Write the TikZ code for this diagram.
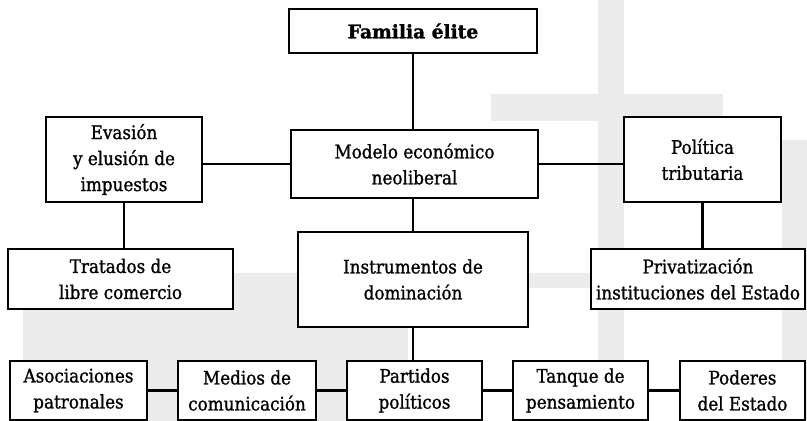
\documentclass[tikz,border=0pt]{standalone}
\usepackage{fontspec}
\setmainfont{DejaVu Serif Condensed}
\newfontfamily\heavyfont{DejaVu Serif Condensed}[FakeBold=1.1]
\newfontfamily\blackfont{DejaVu Serif Bold}[FakeBold=1.5]
\usepackage{tikz}
\usetikzlibrary{positioning,calc,backgrounds}
\definecolor{wmgray}{HTML}{ECECEC}

\begin{document}
\begin{tikzpicture}[
    x=0.75pt, y=-0.75pt,
    line width=1.8pt,
    %
    box/.style={draw=black, rectangle, fill=white, align=center, inner sep=0pt,
                font=\fontsize{14}{19.5}\heavyfont},
    topbox/.style={box, font=\fontsize{14}{19.5}\blackfont},
    rowbox/.style={box, minimum height=44.25pt},
    link/.style={draw=black, line width=1.8pt}
    ]
    \useasboundingbox (0,0) rectangle (807,421);
    % watermark
    \fill[wmgray] (598,0) rectangle (624,421);
    \fill[wmgray] (491,94) rectangle (723,121);
    \fill[wmgray] (23,273) rectangle (807,288);
    \fill[wmgray] (23,273) rectangle (408,421);
    \fill[wmgray] (782,140) rectangle (807,421);
    %
    \node[topbox, minimum width=186pt, minimum height=33pt] (familia) at (413,31) {Familia élite};
    \node[box, minimum width=185.25pt, minimum height=51pt] (modelo) at (414.5,164) {Modelo económico\\neoliberal};
    \node[box, minimum width=117pt, minimum height=63.75pt] (evasion) at (124,159.5) {Evasión\\y elusión de\\impuestos};
    \node[box, minimum width=117.75pt, minimum height=63.75pt] (politica) at (702.5,159.5) {Política\\tributaria};
    %
    \node[box, minimum width=168.75pt, minimum height=45pt] (tratados) at (120.5,279) {Tratados de\\libre comercio};
    \node[box, minimum width=172.5pt, minimum height=71.25pt] (instrumentos) at (413,279.5) {Instrumentos de\\dominación};
    \node[box, minimum width=160.5pt, minimum height=45pt] (privatizacion) at (698,279) {Privatización\\instituciones del Estado};
    %
    \node[rowbox, minimum width=102.75pt] (asociaciones) at (78.5,390.5) {Asociaciones\\patronales};
    \node[rowbox, minimum width=103.5pt] (medios) at (247,390.5) {Medios de\\comunicación};
    \node[rowbox, minimum width=101.25pt] (partidos) at (414.5,390.5) {Partidos\\políticos};
    \node[rowbox, minimum width=101.25pt] (tanque) at (580.5,390.5) {Tanque de\\pensamiento};
    \node[rowbox, minimum width=93.75pt] (poderes) at (742.5,390.5) {Poderes\\del Estado};
    %
    \draw[link] (familia.south) -- (familia.south |- modelo.north);
    \draw[link] (modelo.west) -- (modelo.west -| evasion.east);
    \draw[link] (modelo.east) -- (modelo.east -| politica.west);
    \draw[link] (evasion.south) -- (evasion.south |- tratados.north);
    \draw[link] (instrumentos.north |- modelo.south) -- (instrumentos.north);
    \draw[link] (politica.south) -- (politica.south |- privatizacion.north);
    \draw[link] (instrumentos.south) -- (instrumentos.south |- partidos.north);
    \draw[link] (asociaciones) -- (medios);
    \draw[link] (medios) -- (partidos);
    \draw[link] (partidos) -- (tanque);
    \draw[link] (tanque) -- (poderes);
    %
\end{tikzpicture}
\end{document}
